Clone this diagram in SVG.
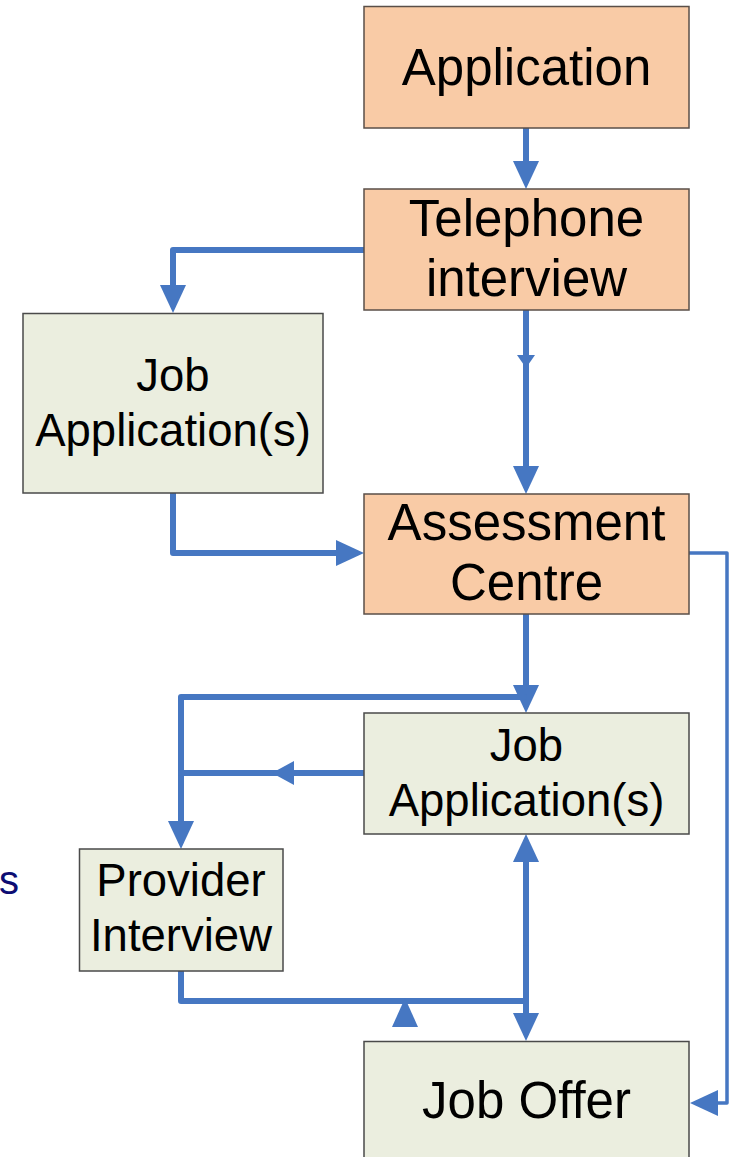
<svg xmlns="http://www.w3.org/2000/svg" width="734" height="1157" viewBox="0 0 734 1157">
<style>
.orange{fill:#F9CBA6;stroke:#5a4f48;stroke-width:1.5}
.green{fill:#EBEEDF;stroke:#4a4a4a;stroke-width:1.5}
.t51{font-family:"Liberation Sans",Arial,sans-serif;font-size:51px;fill:#000;text-anchor:middle}
.t45{font-family:"Liberation Sans",Arial,sans-serif;font-size:45.5px;fill:#000;text-anchor:middle}
.ln{fill:none;stroke:#4677C2;stroke-width:6;stroke-linejoin:round;stroke-linecap:round}
.thin{stroke-width:3.5;stroke-linecap:butt}
.ah{fill:#4677C2}
</style>
<defs>
<marker id="arr" markerUnits="userSpaceOnUse" viewBox="0 0 28 26" markerWidth="28" markerHeight="26" refX="1" refY="13" orient="auto">
<path d="M0,0 L28,13 L0,26 z" fill="#4677C2"/>
</marker>
</defs>
<rect width="734" height="1157" fill="#fff"/>

<g id="connectors">
<path class="ln" d="M526,128 L526,162" marker-end="url(#arr)"/>
<path class="ln" d="M364,250 L173,250 L173,286" marker-end="url(#arr)"/>
<path class="ln" d="M526,310 L526,467" marker-end="url(#arr)"/>
<polygon class="ah" points="517,355 535,355 526,368"/>
<path class="ln" d="M173,493 L173,553 L337,553" marker-end="url(#arr)"/>
<path class="ln" d="M526,614 L526,686" marker-end="url(#arr)"/>
<path class="ln" d="M524,697 L181,697 L181,822" marker-end="url(#arr)"/>
<path class="ln" d="M364,773 L181,773"/>
<polygon class="ah" points="272,773 294,761 294,785"/>
<path class="ln" d="M181,971 L181,1001 L526,1001"/>
<polygon class="ah" points="405,998 392,1027 418,1027"/>
<path class="ln" d="M526,948 L526,861" marker-end="url(#arr)"/>
<path class="ln" d="M526,948 L526,1014" marker-end="url(#arr)"/>
<path class="ln thin" d="M689,553 L727,553 L727,1103 L717,1103" marker-end="url(#arr)"/>
</g>

<g id="application">
<rect class="orange" x="364" y="6.5" width="325" height="121.5"/>
<text class="t51" x="526.5" y="85">Application</text>
</g>

<g id="telephone">
<rect class="orange" x="364" y="189" width="325" height="121"/>
<text class="t51" x="526.5" y="236">Telephone</text>
<text class="t51" x="526.5" y="296">interview</text>
</g>

<g id="jobapp1">
<rect class="green" x="23" y="313.5" width="300" height="179.5"/>
<text class="t45" x="173" y="391">Job</text>
<text class="t45" x="173" y="446">Application(s)</text>
</g>

<g id="assessment">
<rect class="orange" x="364" y="494" width="325" height="120"/>
<text class="t51" x="526.5" y="540">Assessment</text>
<text class="t51" x="526.5" y="600">Centre</text>
</g>

<g id="jobapp2">
<rect class="green" x="364" y="713" width="325" height="121"/>
<text class="t45" x="526.5" y="761">Job</text>
<text class="t45" x="526.5" y="816">Application(s)</text>
</g>

<g id="provider">
<rect class="green" x="79.5" y="849" width="203.5" height="122"/>
<text class="t45" x="181" y="896">Provider</text>
<text class="t45" x="181" y="951">Interview</text>
</g>

<g id="joboffer">
<rect class="green" x="364" y="1041.5" width="325" height="130"/>
<text class="t51" x="526.5" y="1118">Job Offer</text>
</g>

<g id="edge-text">
<text x="-1" y="894" font-family="Liberation Sans, Arial, sans-serif" font-size="40" fill="#0d0d73">s</text>
</g>
</svg>
